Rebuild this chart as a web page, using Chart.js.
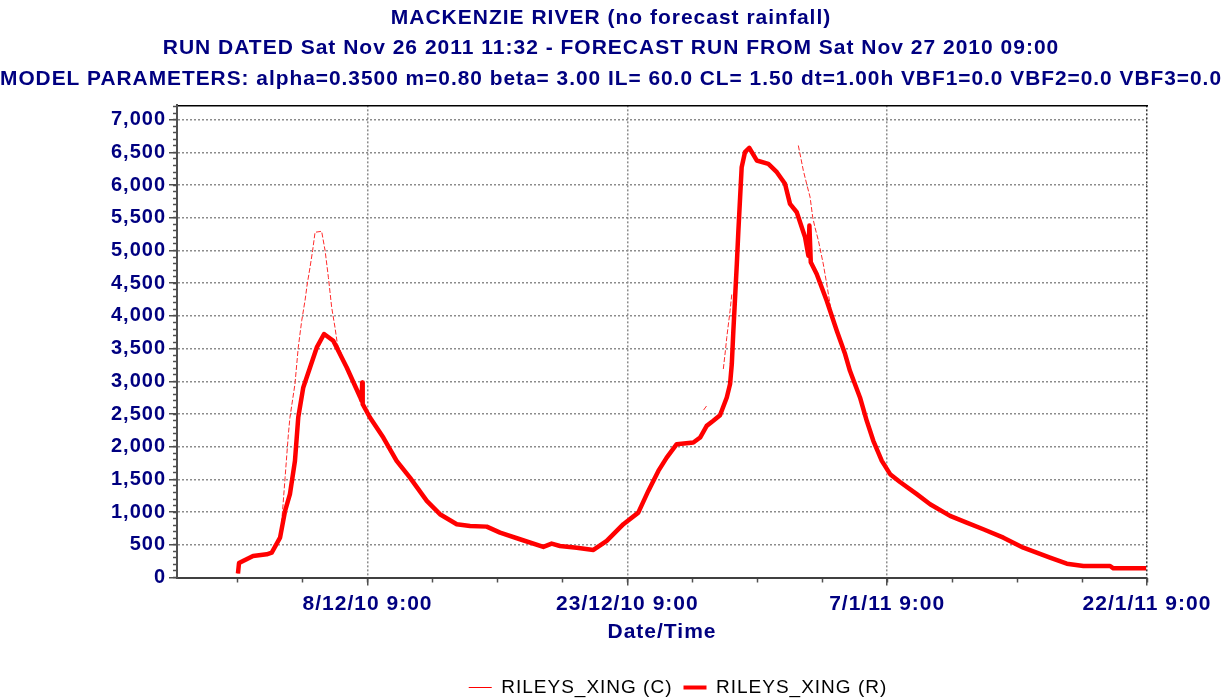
<!DOCTYPE html>
<html>
<head>
<meta charset="utf-8">
<title>Mackenzie River - Rileys Xing</title>
<script src="https://cdn.jsdelivr.net/npm/chart.js@4.4.1/dist/chart.umd.min.js"></script>
<style>
  html, body { margin: 0; padding: 0; background: #fff; }
  canvas { display: block; }
</style>
</head>
<body>
<canvas id="flowChart" width="1222" height="700"></canvas>
<script>
// time axis is in days from the forecast start, 27/11/10 9:00
const recordedDays = [3.52, 3.58, 4.39, 5.18, 5.47, 5.95, 6.24, 6.52, 6.81, 7.00, 7.29, 7.68, 8.07, 8.49, 9.02, 9.80,
  10.57, 10.66, 10.69, 10.72, 11.14, 11.91, 12.68, 13.45, 14.42, 15.18, 16.15, 16.92, 17.88, 18.65, 19.80, 21.15,
  21.63, 22.11, 23.08, 24.04, 24.81, 25.77, 26.63, 27.21, 27.79, 28.27, 28.85, 29.81, 30.20, 30.58, 30.96, 31.35,
  31.74, 31.93, 32.03, 32.12, 32.22, 32.32, 32.41, 32.51, 32.60, 32.79, 33.04, 33.47, 34.14, 34.63, 35.10, 35.39,
  35.78, 36.26, 36.45, 36.51, 36.59, 36.93, 37.51, 38.09, 38.57, 38.85, 39.43, 39.82, 40.20, 40.69, 41.17, 41.74,
  42.71, 43.48, 44.63, 45.59, 46.55, 47.71, 48.86, 50.40, 51.37, 52.33, 53.87, 54.06, 55.95];
const recordedFlow = [60, 220, 330, 355, 380, 610, 1018, 1274, 1784, 2447, 2906, 3212, 3518, 3723, 3621, 3212,
  2760, 2700, 2980, 2650, 2447, 2140, 1784, 1528, 1171, 968, 815, 789, 778, 686, 585, 467,
  518, 482, 456, 421, 559, 815, 992, 1324, 1630, 1834, 2039, 2064, 2140, 2319, 2396, 2480,
  2753, 2958, 3264, 3774, 4284, 4795, 5305, 5815, 6274, 6504, 6571, 6377, 6326, 6198, 6020, 5713,
  5585, 5202, 4922, 5381, 4820, 4642, 4233, 3774, 3417, 3161, 2753, 2396, 2090, 1784, 1580, 1460,
  1274, 1121, 942, 839, 738, 609, 456, 303, 211, 176, 176, 141, 141];

// calculated series, null where the model output is missing
const calcDays = [3.52, 3.58, 4.39, 5.18, 5.47, 5.95, 6.06, 6.24, 6.43, 6.52, 6.81, 7.00, 7.20, 7.39, 7.52, 7.68,
  7.83, 7.97, 8.35, 8.55, 8.74, 8.93, 9.12, 9.26, 9.41, 9.80, 10.57, 11.14, 11.91, 12.68, 13.45, 14.42,
  15.18, 16.15, 16.92, 17.88, 18.65, 19.80, 21.15, 21.63, 22.11, 23.08, 24.04, 24.81, 25.77, 26.63, 27.21, 27.79,
  28.27, 28.85, 29.81, 30.20, 30.30, 30.40, 30.62, 31.00, 31.54, 31.66, 31.74, 31.93, 32.03, 34.00, 35.87, 36.16,
  36.35, 36.55, 36.70, 36.83, 37.03, 37.31, 37.51, 37.70, 37.89, 38.09, 38.57, 38.85, 39.43, 39.82, 40.20, 40.69,
  41.17, 41.74, 42.71, 43.48, 44.63, 45.59, 46.55, 47.71, 48.86, 50.40, 51.37, 52.33, 53.87, 54.06, 55.95];
const calcFlow = [60, 220, 330, 355, 380, 610, 900, 1528, 2192, 2447, 2958, 3518, 3927, 4233, 4489, 4743,
  4999, 5279, 5294, 4999, 4590, 4131, 3825, 3570, 3480, 3212, 2760, 2447, 2140, 1784, 1528, 1171,
  968, 815, 789, 778, 686, 585, 467, 518, 482, 456, 421, 559, 815, 992, 1324, 1630,
  1834, 2039, 2064, 2140, null, 2560, 2640, null, 3188, 3468, 3672, 4080, 4335, null, 6606, 6223,
  6020, 5815, 5509, 5355, 5152, 4795, 4489, 4182, 3927, 3774, 3417, 3161, 2753, 2396, 2090, 1784,
  1580, 1460, 1274, 1121, 942, 839, 738, 609, 456, 303, 211, 176, 176, 141, 141];

const xTickDays = [11, 26, 41, 56];
const xTickLabels = ['8/12/10 9:00', '23/12/10 9:00', '7/1/11 9:00', '22/1/11 9:00'];
const yTicks = [0, 500, 1000, 1500, 2000, 2500, 3000, 3500, 4000, 4500, 5000, 5500, 6000, 6500, 7000];

const titleLines = [
  'MACKENZIE RIVER (no forecast rainfall)',
  'RUN DATED Sat Nov 26 2011 11:32 - FORECAST RUN FROM Sat Nov 27 2010 09:00',
  'MODEL PARAMETERS: alpha=0.3500 m=0.80 beta= 3.00 IL= 60.0 CL= 1.50 dt=1.00h VBF1=0.0 VBF2=0.0 VBF3=0.0'
];
const seriesNames = ['RILEYS_XING (C)', 'RILEYS_XING (R)'];

const NAVY = '#000080';
const RED = '#ff0000';
const GRID = '#8c8c8c';
const AXIS = '#505050';
const FONT = "'Liberation Sans', Arial, sans-serif";

Chart.defaults.font.family = FONT;

// minor tick marks: every 3.75 days and every 100 units
const xMinorTicks = [];
for (let d = 3.5; d <= 56.001; d += 3.75) xMinorTicks.push(d);
const yMinorTicks = [];
for (let v = 0; v <= 7200; v += 100) yMinorTicks.push(v);

function toPoints(days, values) {
  return days.map((d, i) => ({ x: d, y: values[i] }));
}

// the old plotting package spaced its glyphs out a little
const letterSpacing = {
  id: 'letterSpacing',
  beforeUpdate(chart) { chart.ctx.letterSpacing = '1px'; },
  beforeDraw(chart) { chart.ctx.letterSpacing = '1px'; }
};

// legend sits under the plot rather than the page centre
const legendShift = {
  id: 'legendShift',
  afterLayout(chart) {
    const lg = chart.legend;
    lg.left += 67; lg.right += 67;
    lg.top += 7; lg.bottom += 7;
  }
};

new Chart(document.getElementById('flowChart'), {
  type: 'line',
  data: {
    datasets: [
      {
        label: seriesNames[0],
        data: toPoints(calcDays, calcFlow),
        borderColor: '#ff2b2b',
        borderWidth: 1,
        borderDash: [5, 2],
        pointRadius: 0,
        spanGaps: false,
        order: 1
      },
      {
        label: seriesNames[1],
        data: toPoints(recordedDays, recordedFlow),
        borderColor: RED,
        borderWidth: 4.5,
        borderJoinStyle: 'round',
        pointRadius: 0,
        order: 0
      }
    ]
  },
  options: {
    responsive: false,
    animation: false,
    elements: { line: { tension: 0 } },
    layout: { padding: 0 },
    plugins: {
      title: {
        display: true,
        text: titleLines,
        color: NAVY,
        font: { size: 21, weight: 'bold', lineHeight: 1.45 },
        padding: { top: 3, bottom: 11 }
      },
      legend: {
        position: 'bottom',
        labels: {
          color: '#000',
          font: { size: 19 },
          usePointStyle: true,
          pointStyleWidth: 23,
          boxWidth: 23,
          padding: 11,
          generateLabels: () => seriesNames.map((name, i) => ({
            text: name,
            pointStyle: 'line',
            strokeStyle: RED,
            fillStyle: RED,
            lineWidth: i === 0 ? 1 : 4,
            lineDash: [],
            hidden: false,
            datasetIndex: i
          }))
        }
      },
      tooltip: { enabled: false }
    },
    scales: {
      x: {
        type: 'linear',
        position: 'bottom',
        weight: 1,
        min: 0,
        max: 56,
        afterBuildTicks: s => { s.ticks = xTickDays.map(v => ({ value: v })); },
        afterFit: s => { s.height = 82.5; },
        ticks: {
          color: NAVY,
          font: { size: 21, weight: 'bold' },
          padding: 6,
          maxRotation: 0,
          autoSkip: false,
          callback: (v, i) => xTickLabels[i]
        },
        grid: {
          color: c => (c.tick && c.tick.value === 56 ? '#333' : GRID),
          lineWidth: 1.5,
          tickLength: 8,
          tickColor: AXIS,
          tickWidth: 1.5
        },
        border: { color: '#404040', width: 2, dash: [2, 2] },
        title: {
          display: true,
          text: 'Date/Time',
          color: NAVY,
          font: { size: 21, weight: 'bold' },
          padding: { top: 0, bottom: 15 }
        }
      },
      xMinor: {
        type: 'linear',
        position: 'bottom',
        weight: 0,
        min: 0,
        max: 56,
        afterBuildTicks: s => { s.ticks = xMinorTicks.map(v => ({ value: v })); },
        afterFit: s => { s.height = 0; },
        ticks: { display: false },
        grid: { drawOnChartArea: false, tickLength: 5, tickColor: AXIS, tickWidth: 1.5 },
        border: { display: false }
      },
      xTop: {
        type: 'linear',
        position: 'top',
        min: 0,
        max: 56,
        ticks: { display: false },
        grid: { display: false, drawTicks: false },
        border: { display: true, color: '#000', width: 1.5 }
      },
      y: {
        type: 'linear',
        position: 'left',
        weight: 1,
        min: 0,
        max: 7220,
        afterBuildTicks: s => { s.ticks = yTicks.map(v => ({ value: v })); },
        afterFit: s => { s.width = 177; },
        ticks: {
          color: NAVY,
          font: { size: 20, weight: 'bold' },
          padding: 3,
          autoSkip: false,
          callback: v => v.toLocaleString('en-US')
        },
        grid: { color: GRID, lineWidth: 1.5, tickLength: 8, tickColor: AXIS, tickWidth: 1.5 },
        border: { color: AXIS, width: 2, dash: [2, 2] }
      },
      yMinor: {
        type: 'linear',
        position: 'left',
        weight: 0,
        min: 0,
        max: 7220,
        afterBuildTicks: s => { s.ticks = yMinorTicks.map(v => ({ value: v })); },
        afterFit: s => { s.width = 0; },
        ticks: { display: false },
        grid: { drawOnChartArea: false, tickLength: 4, tickColor: AXIS, tickWidth: 1.5 },
        border: { display: false }
      },
      yRight: {
        type: 'linear',
        position: 'right',
        ticks: { display: false },
        grid: { display: false, drawTicks: false },
        border: { display: false },
        afterFit: s => { s.width = 75; }
      }
    }
  },
  plugins: [letterSpacing, legendShift]
});
</script>
</body>
</html>
